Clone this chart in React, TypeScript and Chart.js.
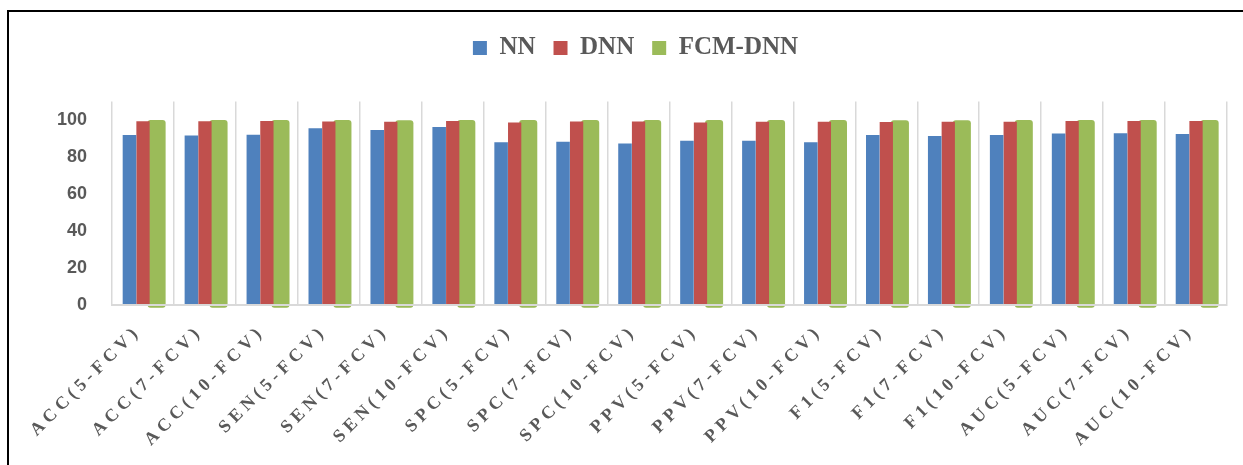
import React, { useEffect, useRef } from 'react';
import { Chart, registerables } from 'chart.js';

Chart.register(...registerables);

const categories = [
  'ACC(5-FCV)', 'ACC(7-FCV)', 'ACC(10-FCV)',
  'SEN(5-FCV)', 'SEN(7-FCV)', 'SEN(10-FCV)',
  'SPC(5-FCV)', 'SPC(7-FCV)', 'SPC(10-FCV)',
  'PPV(5-FCV)', 'PPV(7-FCV)', 'PPV(10-FCV)',
  'F1(5-FCV)', 'F1(7-FCV)', 'F1(10-FCV)',
  'AUC(5-FCV)', 'AUC(7-FCV)', 'AUC(10-FCV)',
];

const seriesNames = ['NN', 'DNN', 'FCM-DNN'];

const nnValues = [91.9, 91.6, 92.0, 95.6, 94.6, 96.2, 88.0, 88.3, 87.3, 88.8, 88.8, 88.0, 91.9, 91.3, 91.9, 92.7, 92.8, 92.4];
const dnnValues = [99.3, 99.3, 99.4, 99.2, 99.0, 99.5, 98.7, 99.2, 99.2, 98.7, 99.1, 99.1, 98.9, 99.0, 99.0, 99.4, 99.5, 99.5];
const fcmDnnValues = [100, 100, 100, 100, 99.8, 100, 100, 100, 100, 100, 100, 100, 99.8, 99.9, 100, 100, 100, 100];

const yTickValues = [0, 20, 40, 60, 80, 100];

const legendTweaks = {
  id: 'legendTweaks',
  beforeInit(chart: any) {
    const lg = chart.legend;
    if (lg) {
      const origFit = lg.fit.bind(lg);
      lg.fit = () => {
        origFit();
        lg.height += 31;
      };
      const origDraw = lg.draw.bind(lg);
      lg.draw = (...args: any[]) => {
        const ctx = chart.ctx;
        ctx.save();
        ctx.translate(6, 0);
        origDraw(...args);
        ctx.restore();
      };
    }
  },
};

const xLabelSpacing = {
  id: 'xLabelSpacing',
  afterDatasetsDraw(chart: any) {
    chart.ctx.letterSpacing = '4.5px';
  },
  afterDraw(chart: any) {
    chart.ctx.letterSpacing = '0px';
  },
};

export default function App() {
  const canvasRef = useRef<HTMLCanvasElement | null>(null);

  useEffect(() => {
    if (!canvasRef.current) return;
    const chart = new Chart(canvasRef.current, {
      type: 'bar',
      data: {
        labels: categories,
        datasets: [
          {
            label: seriesNames[0],
            data: nnValues,
            backgroundColor: '#4F81BD',
            categoryPercentage: 0.656,
            barPercentage: 1.0,
          },
          {
            label: seriesNames[1],
            data: dnnValues,
            backgroundColor: '#C0504D',
            categoryPercentage: 0.656,
            barPercentage: 0.98,
          },
          {
            label: seriesNames[2],
            data: fcmDnnValues,
            backgroundColor: '#9BBB59',
            categoryPercentage: 0.658,
            barPercentage: 1.33,
            borderRadius: 3,
            borderSkipped: false,
            base: -1.5,
            clip: false,
          } as any,
        ],
      },
      options: {
        responsive: false,
        animation: false,
        devicePixelRatio: 1,
        layout: { padding: { top: 17.5, left: 32, right: 16, bottom: 0 } },
        plugins: {
          legend: {
            position: 'top',
            labels: {
              boxWidth: 14,
              boxHeight: 14,
              padding: 18,
              color: '#595959',
              font: { family: 'Liberation Serif', weight: 'bold', size: 25 },
            },
          },
          tooltip: { enabled: false },
        },
        scales: {
          x: {
            grid: { offset: true, color: '#d9d9d9', lineWidth: 1.5, drawTicks: false },
            border: { color: '#d9d9d9', width: 2, z: 1 },
            ticks: {
              autoSkip: false,
              maxRotation: 45,
              minRotation: 45,
              padding: 16,
              labelOffset: -5,
              color: '#595959',
              z: 1,
              font: { family: 'Liberation Serif', weight: 'bold', size: 18 },
            },
            afterFit: (s: any) => {
              s.height = 160;
              s.paddingLeft = 0;
              s.paddingRight = 0;
            },
          },
          y: {
            min: 0,
            max: 110,
            afterBuildTicks: (axis: any) => {
              axis.ticks = yTickValues.map((v) => ({ value: v }));
            },
            grid: { display: false, drawTicks: false },
            border: { display: false },
            ticks: {
              padding: 25,
              color: '#595959',
              font: { family: 'Liberation Sans', weight: 'bold', size: 18 },
            },
          },
        },
      },
      plugins: [legendTweaks, xLabelSpacing],
    });
    return () => chart.destroy();
  }, []);

  return (
    <div style={{ position: 'absolute', left: 0, top: 0, width: 1243, height: 465, overflow: 'hidden', background: '#fff' }}>
      <div
        style={{
          position: 'absolute',
          left: 7,
          top: 10,
          width: 1400,
          height: 600,
          borderLeft: '2px solid #000',
          borderTop: '2px solid #000',
        }}
      />
      <canvas
        ref={canvasRef}
        width={1243}
        height={465}
        style={{ position: 'absolute', left: 0, top: 0, width: 1243, height: 465 }}
      />
    </div>
  );
}
